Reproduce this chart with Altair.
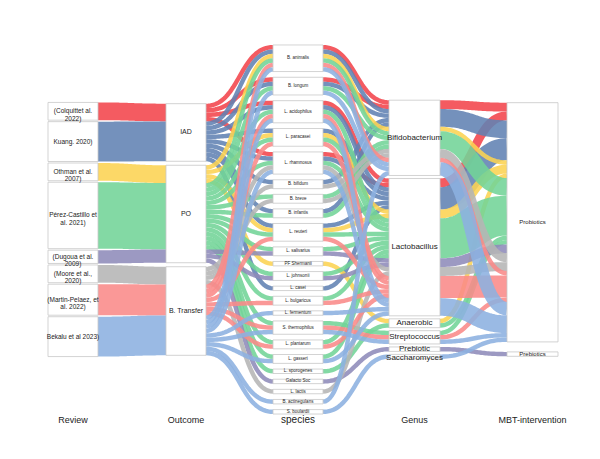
import altair as alt
import numpy as np
import pandas as pd

# ---------------- data ----------------
REVIEWS = ["Colquitt", "Kuang", "Othman", "Perez-Castillo", "Dugoua", "Moore", "Martin-Pelaez", "Bekalu"]
REVIEW_LABELS = ["(Colquittet al.\n2022)", "Kuang. 2020)", "Othman et al.\n2007)", "Pérez-Castillo et\nal. 2021)",
                 "(Dugoua et al.\n2009)", "(Moore et al.,\n2020)", "(Martin-Pelaez, et\nal. 2022)", "Bekalu et al 2023)"]
REVIEW_COLORS = ["#F2444B", "#6182B3", "#FCD352", "#72D497", "#8E8BBA", "#B5B5B5", "#F98A89", "#8CB1E0"]
REVIEW_OUTCOME = ["IAD", "IAD", "PO", "PO", "PO", "B. Transfer", "B. Transfer", "B. Transfer"]
OUTCOMES = ["IAD", "PO", "B. Transfer"]

SPECIES = ["B. animalis", "B. longum", "L. acidophilus", "L. paracasei", "L. rhamnosus", "B. bifidum",
           "B. breve", "B. infantis", "L. reuteri", "L. salivarius", "PF Shermanii", "L. johnsonii",
           "L. casei", "L. bulgaricus", "L. fermentum", "S. thermophilus", "L. plantarum", "L. gasseri",
           "L. sporogenes", "Galacto Soc", "L. lactis", "B. actinegulans", "S. boulardii"]
SPECIES_GENUS = ["Bifidobacterium", "Bifidobacterium", "Lactobacillus", "Lactobacillus", "Lactobacillus",
                 "Bifidobacterium", "Bifidobacterium", "Bifidobacterium", "Lactobacillus", "Lactobacillus",
                 "Anaerobic", "Lactobacillus", "Lactobacillus", "Lactobacillus", "Lactobacillus",
                 "Streptococcus", "Lactobacillus", "Lactobacillus", "Anaerobic", "Prebiotic",
                 "Lactobacillus", "Bifidobacterium", "Saccharomyces"]
GENERA = ["Bifidobacterium", "Lactobacillus", "Anaerobic", "Streptococcus", "Prebiotic", "Saccharomyces"]
GENUS_INTERVENTION = ["Probiotics", "Probiotics", "Probiotics", "Probiotics", "Prebiotics", "Probiotics"]
INTERVENTIONS = ["Probiotics", "Prebiotics"]

COLQUITT_SPECIES = ["B. animalis", "B. longum", "L. acidophilus", "L. rhamnosus"]
KUANG_SPECIES = ["B. animalis", "B. longum", "L. acidophilus", "L. paracasei", "L. rhamnosus",
                 "B. bifidum", "B. infantis", "L. reuteri", "L. casei"]
OTHMAN_SPECIES = ["B. animalis", "L. paracasei", "L. reuteri", "PF Shermanii"]
PEREZ_SPECIES = ["B. animalis", "B. longum", "L. acidophilus", "L. paracasei", "L. rhamnosus", "B. breve",
                 "B. infantis", "L. reuteri", "L. salivarius", "L. johnsonii", "L. bulgaricus",
                 "S. thermophilus", "L. plantarum", "L. gasseri", "L. sporogenes"]
DUGOUA_SPECIES = ["L. salivarius", "L. johnsonii", "Galacto Soc"]
MOORE_SPECIES = ["B. bifidum", "B. breve", "L. rhamnosus", "L. lactis"]
MARTIN_SPECIES = ["B. animalis", "L. acidophilus", "L. paracasei", "L. reuteri", "L. bulgaricus",
                  "S. thermophilus", "L. plantarum"]
BEKALU_SPECIES = ["B. animalis", "B. longum", "L. acidophilus", "L. rhamnosus", "L. fermentum",
                  "S. thermophilus", "L. gasseri", "B. actinegulans", "S. boulardii"]

COLUMN_TITLES = ["Review", "Outcome", "species", "Genus", "MBT-intervention"]

# ---------------- layout (page pixels) ----------------
UNIT = 4.43
COL_X = [(48, 98), (166, 206), (273, 323), (389, 440), (507, 558)]
COL_PAD = [1.5, 4, 5.7, 3, 10]
MID_Y = 229.5
TITLE_Y = 420
TITLE_SIZE = [9, 9, 10, 9, 9]
LABEL_SIZE = [6.5, 7, 4.5, 8, 6]

lists = [COLQUITT_SPECIES, KUANG_SPECIES, OTHMAN_SPECIES, PEREZ_SPECIES, DUGOUA_SPECIES,
         MOORE_SPECIES, MARTIN_SPECIES, BEKALU_SPECIES]
pairs = [(r, s) for r, lst in zip(REVIEWS, lists) for s in lst]
ridx = {r: i for i, r in enumerate(REVIEWS)}
gidx = {g: i for i, g in enumerate(GENERA)}
genus_of = dict(zip(SPECIES, SPECIES_GENUS))
interv_of = dict(zip(GENERA, GENUS_INTERVENTION))
outcome_of = dict(zip(REVIEWS, REVIEW_OUTCOME))

rev_cnt = {r: sum(1 for p in pairs if p[0] == r) for r in REVIEWS}
out_cnt = {o: sum(rev_cnt[r] for r in REVIEWS if outcome_of[r] == o) for o in OUTCOMES}
sp_cnt = {s: sum(1 for p in pairs if p[1] == s) for s in SPECIES}
gen_cnt = {g: sum(sp_cnt[s] for s in SPECIES if genus_of[s] == g) for g in GENERA}
int_cnt = {i: sum(gen_cnt[g] for g in GENERA if interv_of[g] == i) for i in INTERVENTIONS}

columns = [
    (REVIEWS, rev_cnt, REVIEW_LABELS),
    (OUTCOMES, out_cnt, OUTCOMES),
    (SPECIES, sp_cnt, SPECIES),
    (GENERA, gen_cnt, GENERA),
    (INTERVENTIONS, int_cnt, INTERVENTIONS),
]

pos = {}
node_rows = []
label_rows = []
for c, (names, cnt, labels) in enumerate(columns):
    total = sum(cnt[n] for n in names) * UNIT + (len(names) - 1) * COL_PAD[c]
    y = MID_Y - total / 2
    prev_label_y = -1e9
    for n, lab in zip(names, labels):
        h = cnt[n] * UNIT
        pos[(c, n)] = (y, y + h)
        node_rows.append({"x0": COL_X[c][0], "x1": COL_X[c][1], "y0": y, "y1": y + h})
        ly = y + h / 2
        # keep single-line labels of adjacent small nodes from colliding
        ly = max(ly, prev_label_y + LABEL_SIZE[c] * 1.1)
        prev_label_y = ly
        label_rows.append({"col": c, "x": (COL_X[c][0] + COL_X[c][1]) / 2, "y": ly,
                           "text": lab, "size": LABEL_SIZE[c]})
        y += h + COL_PAD[c]

sp_y = {s: pos[(2, s)][0] for s in SPECIES}

links = []
for r in REVIEWS:
    links.append({"col": 0, "src": (0, r), "tgt": (1, outcome_of[r]), "w": rev_cnt[r] * UNIT,
                  "review": r, "skey": (0,), "tkey": (ridx[r],)})
for r, s in pairs:
    links.append({"col": 1, "src": (1, outcome_of[r]), "tgt": (2, s), "w": UNIT, "review": r,
                  "skey": (ridx[r], sp_y[s]), "tkey": (ridx[r],)})
    links.append({"col": 2, "src": (2, s), "tgt": (3, genus_of[s]), "w": UNIT, "review": r,
                  "skey": (ridx[r],), "tkey": (ridx[r], sp_y[s])})
agg = {}
for r, s in pairs:
    agg[(r, genus_of[s])] = agg.get((r, genus_of[s]), 0) + 1
for (r, g), n in agg.items():
    links.append({"col": 3, "src": (3, g), "tgt": (4, interv_of[g]), "w": n * UNIT, "review": r,
                  "skey": (ridx[r],), "tkey": (ridx[r], gidx[g])})

for end, key in (("src", "skey"), ("tgt", "tkey")):
    groups = {}
    for l in links:
        groups.setdefault(l[end], []).append(l)
    for node, ls in groups.items():
        ls.sort(key=lambda l: l[key])
        y = pos[node][0]
        for l in ls:
            l["y_" + end] = y + l["w"] / 2
            y += l["w"]

t = np.linspace(0, 1, 41)
rows = []
for lid, l in enumerate(links):
    x0 = COL_X[l["col"]][1]
    x1 = COL_X[l["col"] + 1][0]
    xs = x0 + (x1 - x0) * (1.5 * t * (1 - t) + t ** 3)
    ys = l["y_src"] + (l["y_tgt"] - l["y_src"]) * (3 * t ** 2 - 2 * t ** 3)
    for i in range(len(t)):
        rows.append({"lid": lid, "review": l["review"], "w": l["w"], "i": i, "x": xs[i], "y": ys[i]})

link_df = pd.DataFrame(rows)
node_df = pd.DataFrame(node_rows)
label_df = pd.DataFrame(label_rows)
title_df = pd.DataFrame({
    "x": [(a + b) / 2 for a, b in COL_X],
    "y": [TITLE_Y] * 5,
    "text": COLUMN_TITLES,
    "size": TITLE_SIZE,
})

xsc = alt.Scale(domain=[8, 592], nice=False, zero=False)
ysc = alt.Scale(domain=[8, 451], nice=False, zero=False, reverse=True)
FONT = "Liberation Sans"

link_layer = alt.Chart(link_df).mark_line(opacity=0.88, strokeCap="butt").encode(
    x=alt.X("x:Q", scale=xsc, axis=None),
    y=alt.Y("y:Q", scale=ysc, axis=None),
    detail="lid:N",
    color=alt.Color("review:N", scale=alt.Scale(domain=REVIEWS, range=REVIEW_COLORS), legend=None),
    strokeWidth=alt.StrokeWidth("w:Q", scale=None),
    order="i:Q",
)

node_layer = alt.Chart(node_df).mark_rect(fill="white", stroke="#c8c8c8", strokeWidth=0.8).encode(
    x=alt.X("x0:Q", scale=xsc, axis=None), x2="x1:Q",
    y=alt.Y("y0:Q", scale=ysc, axis=None), y2="y1:Q",
)

review_text = alt.Chart(label_df[label_df.col == 0]).mark_text(
    font=FONT, fontSize=6.5, lineHeight=7.5, color="#222", align="center", baseline="middle", lineBreak="\n"
).encode(x=alt.X("x:Q", scale=xsc, axis=None), y=alt.Y("y:Q", scale=ysc, axis=None), text="text:N")

other_text = alt.Chart(label_df[label_df.col > 0]).mark_text(
    font=FONT, color="#222", align="center", baseline="middle"
).encode(x=alt.X("x:Q", scale=xsc, axis=None), y=alt.Y("y:Q", scale=ysc, axis=None), text="text:N",
         size=alt.Size("size:Q", scale=None, legend=None))

title_text = alt.Chart(title_df).mark_text(
    font=FONT, color="#222", align="center", baseline="middle"
).encode(x=alt.X("x:Q", scale=xsc, axis=None), y=alt.Y("y:Q", scale=ysc, axis=None), text="text:N",
         size=alt.Size("size:Q", scale=None, legend=None))

chart = alt.layer(link_layer, node_layer, review_text, other_text, title_text).properties(
    width=584, height=443, padding=0, background="white",
    autosize=alt.AutoSizeParams(type="none"),
).configure_view(stroke=None)

chart.save("out.html", embed_options={"renderer": "svg", "actions": False})
